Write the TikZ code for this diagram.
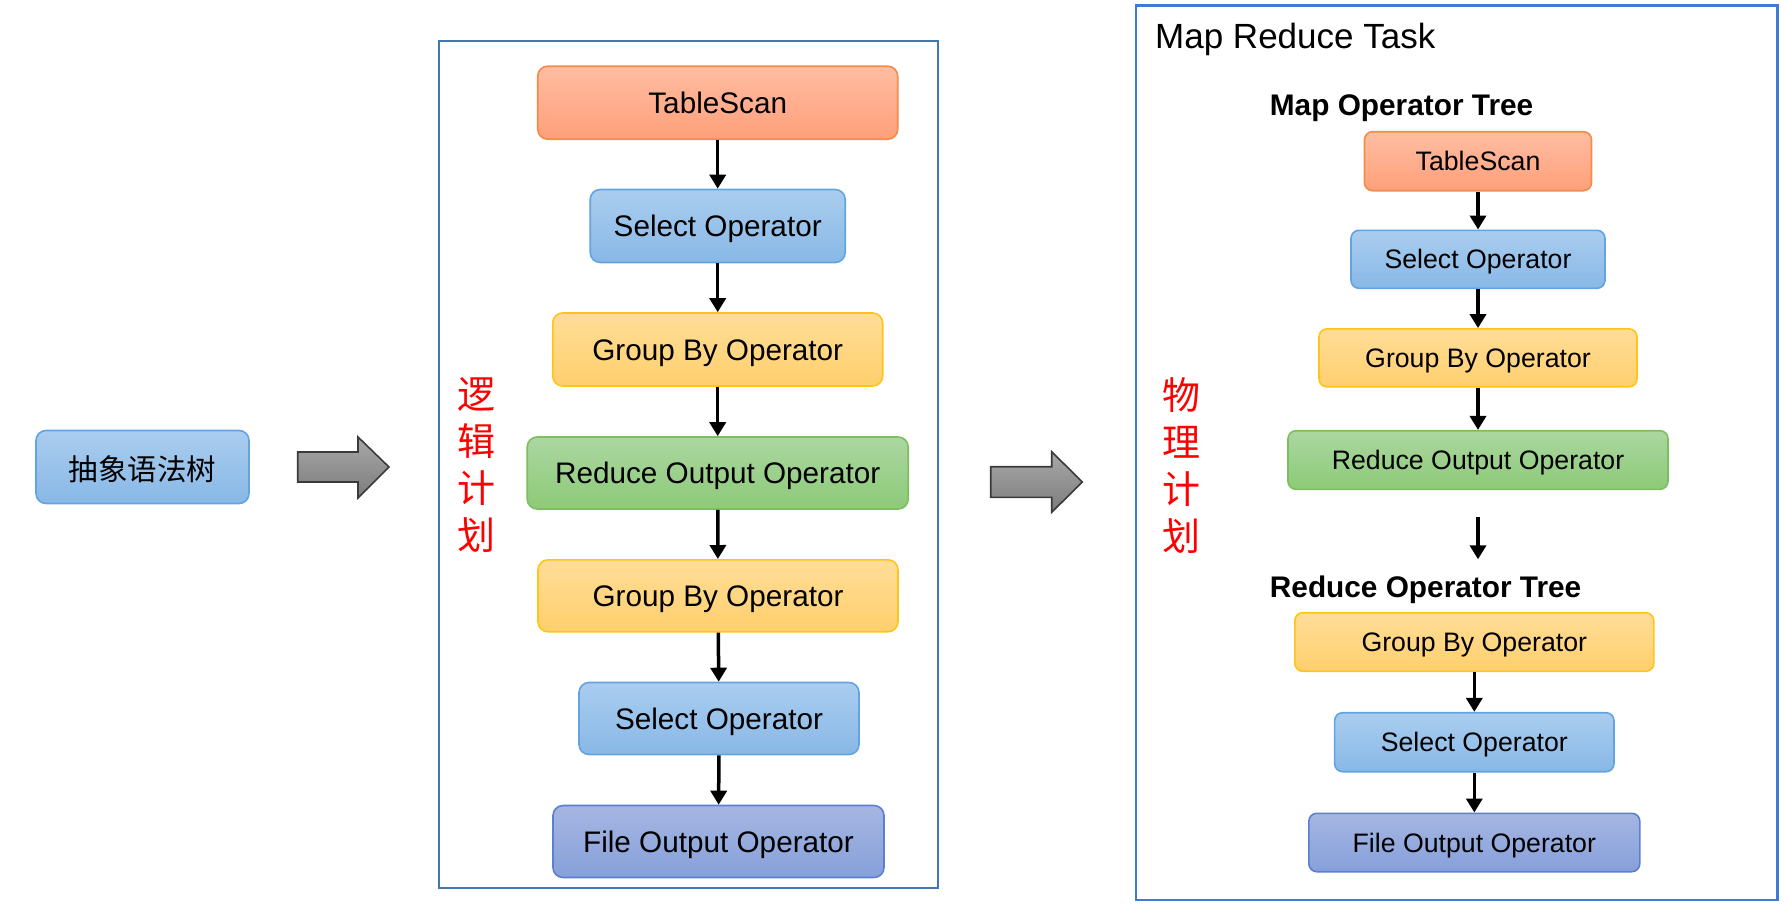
\documentclass[tikz,border=0pt]{standalone}
\usepackage{fontspec}
\setmainfont{Liberation Sans}
\newfontfamily\cjk{Noto Sans CJK SC}
\usetikzlibrary{arrows.meta}
\definecolor{tsTop}{HTML}{FFBDA2}
\definecolor{tsBot}{HTML}{FF9F7A}
\definecolor{tsLine}{HTML}{F68A48}
\definecolor{selTop}{HTML}{AACDEF}
\definecolor{selBot}{HTML}{88B8E6}
\definecolor{selLine}{HTML}{62A3E0}
\definecolor{grpTop}{HTML}{FFDD98}
\definecolor{grpBot}{HTML}{FFCF6C}
\definecolor{grpLine}{HTML}{FFC41A}
\definecolor{rdTop}{HTML}{ABD7A1}
\definecolor{rdBot}{HTML}{8DCA78}
\definecolor{rdLine}{HTML}{7DBF5E}
\definecolor{flTop}{HTML}{A6B6E2}
\definecolor{flBot}{HTML}{86A0DA}
\definecolor{flLine}{HTML}{5B80D0}
\definecolor{frameA}{HTML}{4178AE}
\definecolor{frameB}{HTML}{3F7AD5}
\definecolor{grTop}{HTML}{A8A8A8}
\definecolor{grBot}{HTML}{7C7C7C}
\definecolor{grLine}{HTML}{3A3A3A}
\tikzset{
  opbox/.style={draw, line width=1.6pt, rounded corners=10pt, inner sep=0pt,
    text height=21pt, text depth=0pt, font=\fontsize{29.7}{32}\selectfont},
  opsmall/.style={draw, line width=1.6pt, rounded corners=8pt, inner sep=0pt,
    text height=19pt, text depth=0pt, font=\fontsize{26.7}{29}\selectfont},
  tsfill/.style={top color=tsTop, bottom color=tsBot, draw=tsLine},
  selfill/.style={top color=selTop, bottom color=selBot, draw=selLine},
  grpfill/.style={top color=grpTop, bottom color=grpBot, draw=grpLine},
  rdfill/.style={top color=rdTop, bottom color=rdBot, draw=rdLine},
  flfill/.style={top color=flTop, bottom color=flBot, draw=flLine},
  flow/.style={-{Triangle[length=14pt,width=16pt]}, line width=3.5pt},
  grayarrow/.style={top color=grTop, bottom color=grBot, draw=grLine, line width=1.6pt, line join=miter},
  redtext/.style={text=red, align=center, inner sep=0pt, font=\cjk\fontsize{38}{47}\selectfont},
  heading/.style={inner sep=0pt, anchor=base west}
}
\begin{document}
\begin{tikzpicture}[x=1pt,y=-1pt]
\useasboundingbox (0,0) rectangle (1784,908);
% left tree box
\node[opbox, selfill, minimum width=213pt, minimum height=73pt, text height=26pt, font=\cjk\fontsize{29.5}{32}\selectfont] (ast) at (142.5,467) {抽象语法树};
\draw[grayarrow] (297.7,452) -- (358,452) -- (358,437) -- (389,467) -- (358,498) -- (358,482) -- (297.7,482) -- cycle;
% logical plan frame
\draw[frameA, line width=2pt] (439.3,41) rectangle (937.7,887.5);
\node[redtext] (lp) at (476.8,465) {逻\\辑\\计\\划};
\node[opbox, tsfill, minimum width=360pt, minimum height=73pt] (ts1) at (717.7,102.7) {TableScan};
\node[opbox, selfill, minimum width=255pt, minimum height=73pt] (sel1) at (717.7,226) {Select Operator};
\node[opbox, grpfill, minimum width=330pt, minimum height=73pt] (grp1) at (717.7,349.5) {Group By Operator};
\node[opbox, rdfill, minimum width=381pt, minimum height=72pt] (rd1) at (717.7,473) {Reduce Output Operator};
\node[opbox, grpfill, minimum width=360pt, minimum height=72pt] (grp2) at (718,595.8) {Group By Operator};
\node[opbox, selfill, minimum width=280pt, minimum height=72pt] (sel2) at (719,718.5) {Select Operator};
\node[opbox, flfill, minimum width=331pt, minimum height=72pt] (fl1) at (718.5,841.5) {File Output Operator};
\draw[flow] (ts1) -- (sel1);
\draw[flow] (sel1) -- (grp1);
\draw[flow] (grp1) -- (rd1);
\draw[flow] (rd1) -- (grp2);
\draw[flow] (grp2) -- (sel2);
\draw[flow] (sel2) -- (fl1);
% second gray arrow
\draw[grayarrow] (990.7,466.7) -- (1051.7,466.7) -- (1051.7,451.7) -- (1082.3,482) -- (1051.7,512.3) -- (1051.7,497.3) -- (990.7,497.3) -- cycle;
% physical plan frame
\draw[frameB, line width=2.5pt] (1135.8,5.3) rectangle (1777.6,900);
\node[heading, font=\fontsize{35}{37}\selectfont] (mrt) at (1155,48.3) {Map Reduce Task};
\node[heading, font=\bfseries\fontsize{29.8}{31}\selectfont] (mot) at (1269.7,115) {Map Operator Tree};
\node[heading, font=\bfseries\fontsize{29.8}{31}\selectfont] (rot) at (1269.7,597.3) {Reduce Operator Tree};
\node[redtext] (pp) at (1181,466) {物\\理\\计\\划};
\node[opsmall, tsfill, minimum width=227pt, minimum height=59pt] (ts2) at (1478,161.2) {TableScan};
\node[opsmall, selfill, minimum width=254pt, minimum height=58pt] (sel3) at (1478,259.3) {Select Operator};
\node[opsmall, grpfill, minimum width=318pt, minimum height=58pt] (grp3) at (1478,357.9) {Group By Operator};
\node[opsmall, rdfill, minimum width=380pt, minimum height=58.6pt] (rd2) at (1478,460) {Reduce Output Operator};
\coordinate (mid1) at (1478,517.3);
\coordinate (mid2) at (1478,559.3);
\node[opsmall, grpfill, minimum width=359pt, minimum height=58.6pt] (grp4) at (1474.3,642) {Group By Operator};
\node[opsmall, selfill, minimum width=279.4pt, minimum height=59pt] (sel4) at (1474.3,742.2) {Select Operator};
\node[opsmall, flfill, minimum width=331pt, minimum height=58.4pt] (fl2) at (1474.3,842.5) {File Output Operator};
\draw[flow] (ts2) -- (sel3);
\draw[flow] (sel3) -- (grp3);
\draw[flow] (grp3) -- (rd2);
\draw[flow] (mid1) -- (mid2);
\draw[flow] (grp4) -- (sel4);
\draw[flow] (sel4) -- (fl2);
\end{tikzpicture}
\end{document}
